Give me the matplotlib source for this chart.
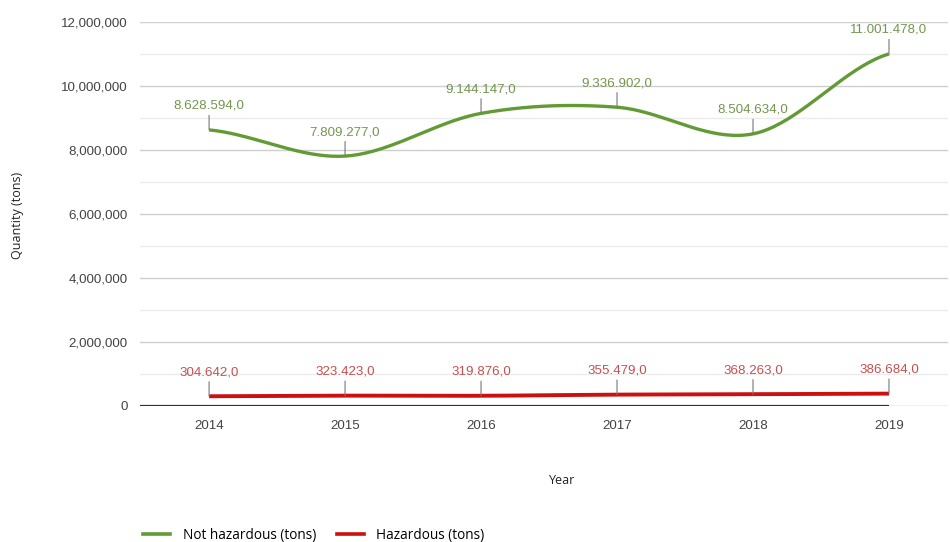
import numpy as np
import matplotlib
matplotlib.use("Agg")
import matplotlib.pyplot as plt
from matplotlib.lines import Line2D

years = [2014, 2015, 2016, 2017, 2018, 2019]
not_hazardous = [8628594.0, 7809277.0, 9144147.0, 9336902.0, 8504634.0, 11001478.0]
hazardous = [304642.0, 323423.0, 319876.0, 355479.0, 368263.0, 386684.0]
y_ticks = [0, 2000000, 4000000, 6000000, 8000000, 10000000, 12000000]

GREEN = "#629b35"
GREEN_TXT = "#73964f"
RED = "#cc1010"
RED_TXT = "#c65050"
NARROW = ["Liberation Sans Narrow", "Liberation Sans", "DejaVu Sans"]


def smooth(xs, ys, n=40):
    """Cubic Hermite curve through the points (function-style smoothing)."""
    xs = np.asarray(xs, float)
    ys = np.asarray(ys, float)
    m = np.zeros_like(ys)
    m[1:-1] = (ys[2:] - ys[:-2]) / (xs[2:] - xs[:-2])
    m[0] = (ys[1] - ys[0]) / (xs[1] - xs[0]) * 0.5
    m[-1] = (ys[-1] - ys[-2]) / (xs[-1] - xs[-2]) * 0.5
    ox, oy = [], []
    for i in range(len(xs) - 1):
        h = xs[i + 1] - xs[i]
        t = np.linspace(0, 1, n, endpoint=False)
        h00 = 2 * t**3 - 3 * t**2 + 1
        h10 = t**3 - 2 * t**2 + t
        h01 = -2 * t**3 + 3 * t**2
        h11 = t**3 - t**2
        ox.extend(xs[i] + t * h)
        oy.extend(h00 * ys[i] + h10 * h * m[i] + h01 * ys[i + 1] + h11 * h * m[i + 1])
    ox.append(xs[-1])
    oy.append(ys[-1])
    return np.array(ox), np.array(oy)


def eu(v):
    s = f"{v:,.1f}"
    return s.replace(",", "X").replace(".", ",").replace("X", ".")


fig = plt.figure(figsize=(9.5, 5.42), dpi=100)
ax = fig.add_axes([140 / 950, 1 - 406 / 542, 808 / 950, 384 / 542])

ax.set_xlim(years[0] - 0.508, years[-1] + 0.434)
ax.set_ylim(0, 12000000)

# grid: major every 2M, minor every 1M
for y in range(1000000, 12000001, 1000000):
    major = y % 2000000 == 0
    ax.axhline(y, color="#cfcfcf" if major else "#ececec", lw=1.0, zorder=0)
ax.axhline(0, color="#b0b0b0", lw=1.0, zorder=0)
ax.plot([years[0] - 0.508, years[-1]], [0, 0], color="#333333", lw=1.6, zorder=1,
        solid_capstyle="butt")

for s in ax.spines.values():
    s.set_visible(False)

gx, gy = smooth(years, not_hazardous)
rx, ry = smooth(years, hazardous)
ax.plot(gx, gy, color=GREEN, lw=2.4, zorder=3, solid_capstyle="butt")
ax.plot(rx, ry, color=RED, lw=2.8, zorder=3, solid_capstyle="butt")

for series, col in ((not_hazardous, GREEN_TXT), (hazardous, RED_TXT)):
    for x, v in zip(years, series):
        ax.annotate("", xy=(x, v), xytext=(0, 10.5), textcoords="offset points",
                    arrowprops=dict(arrowstyle="-", color="#777777", lw=0.8,
                                    shrinkA=0, shrinkB=0), zorder=4)
        ax.annotate(eu(v), xy=(x, v), xytext=(0, 13), textcoords="offset points",
                    ha="center", va="bottom", color=col, fontsize=9.6,
                    family=NARROW, zorder=5)

ax.set_yticks(y_ticks)
ax.set_yticklabels([f"{t:,}" for t in y_ticks])
ax.set_xticks(years)
ax.set_xticklabels([str(y) for y in years])
ax.tick_params(axis="both", length=0, colors="#444444", labelsize=9.6)
ax.tick_params(axis="y", pad=9)
ax.tick_params(axis="x", pad=10)
for lab in ax.get_xticklabels() + ax.get_yticklabels():
    lab.set_family(NARROW)

fig.text(18 / 950, 1 - 215 / 542, "Quantity (tons)", rotation=90, ha="center",
         va="center", fontsize=9, color="#222222", family="Open Sans")
fig.text(562 / 950, 1 - 480 / 542, "Year", ha="center", va="center",
         fontsize=9, color="#222222", family="Open Sans")

handles = [Line2D([], [], color=GREEN, lw=2.6), Line2D([], [], color=RED, lw=2.6)]
fig.legend(handles, ["Not hazardous (tons)", "Hazardous (tons)"], loc="center left",
           bbox_to_anchor=(131 / 950, 1 - 535 / 542), ncol=2, frameon=False,
           handlelength=2.0, columnspacing=1.5, handletextpad=0.9,
           prop={"family": "Open Sans", "size": 9.8})

fig.savefig("out.png", dpi=100)
